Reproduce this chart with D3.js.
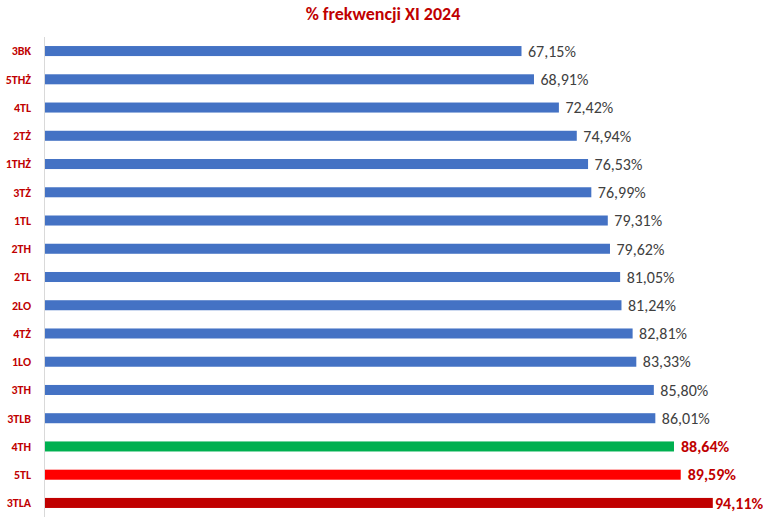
<!DOCTYPE html>
<html><head><meta charset="utf-8">
<script src="https://cdn.jsdelivr.net/npm/d3@7"></script>
<style>body{margin:0;background:#fff}</style>
</head><body>
<script>
const categories = ["3BK","5THŻ","4TL","2TŻ","1THŻ","3TŻ","1TL","2TH","2TL","2LO","4TŻ","1LO","3TH","3TLB","4TH","5TL","3TLA"];
const values = [67.15,68.91,72.42,74.94,76.53,76.99,79.31,79.62,81.05,81.24,82.81,83.33,85.80,86.01,88.64,89.59,94.11];
const colors = ["#4472C4","#4472C4","#4472C4","#4472C4","#4472C4","#4472C4","#4472C4","#4472C4","#4472C4","#4472C4","#4472C4","#4472C4","#4472C4","#4472C4","#00B050","#FF0000","#C00000"];
const highlight = [0,0,0,0,0,0,0,0,0,0,0,0,0,0,1,1,1];

const W=763,H=524;
const font="Carlito, 'Liberation Sans Narrow', 'DejaVu Sans Condensed', sans-serif";
const svg=d3.select("body").append("svg").attr("width",W).attr("height",H);
const x=d3.scaleLinear().domain([0,100]).range([45,754.6]);
const y=d3.scaleBand().domain(categories).range([37,517]).paddingInner(0.645).paddingOuter(0.32);

svg.append("text").attr("x",383).attr("y",20).attr("text-anchor","middle")
 .attr("font-family",font).attr("font-weight","bold").attr("font-size",18).attr("fill","#C00000")
 .text("% frekwencji XI 2024");

svg.append("line").attr("x1",44.5).attr("x2",44.5).attr("y1",37).attr("y2",517).attr("stroke","#D9D9D9").attr("stroke-width",1);

const g=svg.append("g");
g.selectAll("rect").data(values).join("rect")
 .attr("x",x(0)).attr("y",(d,i)=>y(categories[i])).attr("height",y.bandwidth())
 .attr("width",d=>x(d)-x(0)).attr("fill",(d,i)=>colors[i]);

const fmt=d=>d.toFixed(2).replace(".",",")+"%";
g.selectAll("text.v").data(values).join("text").attr("class","v")
 .attr("x",(d,i)=>Math.min(x(d)+ (highlight[i]?7:6.5), highlight[i]? 715 : 999))
 .attr("y",(d,i)=>y(categories[i])+y.bandwidth()/2).attr("dy","0.36em")
 .attr("font-family",font).attr("font-size",16)
 .attr("font-weight",(d,i)=>highlight[i]?"bold":"normal")
 .attr("fill",(d,i)=>highlight[i]?"#C00000":"#404040")
 .text(fmt);

g.selectAll("text.c").data(categories).join("text").attr("class","c")
 .attr("x",31).attr("y",d=>y(d)+y.bandwidth()/2).attr("dy","0.36em").attr("text-anchor","end")
 .attr("font-family",font).attr("font-size",12).attr("font-weight","bold").attr("fill","#C00000")
 .text(d=>d);
</script>
</body></html>
